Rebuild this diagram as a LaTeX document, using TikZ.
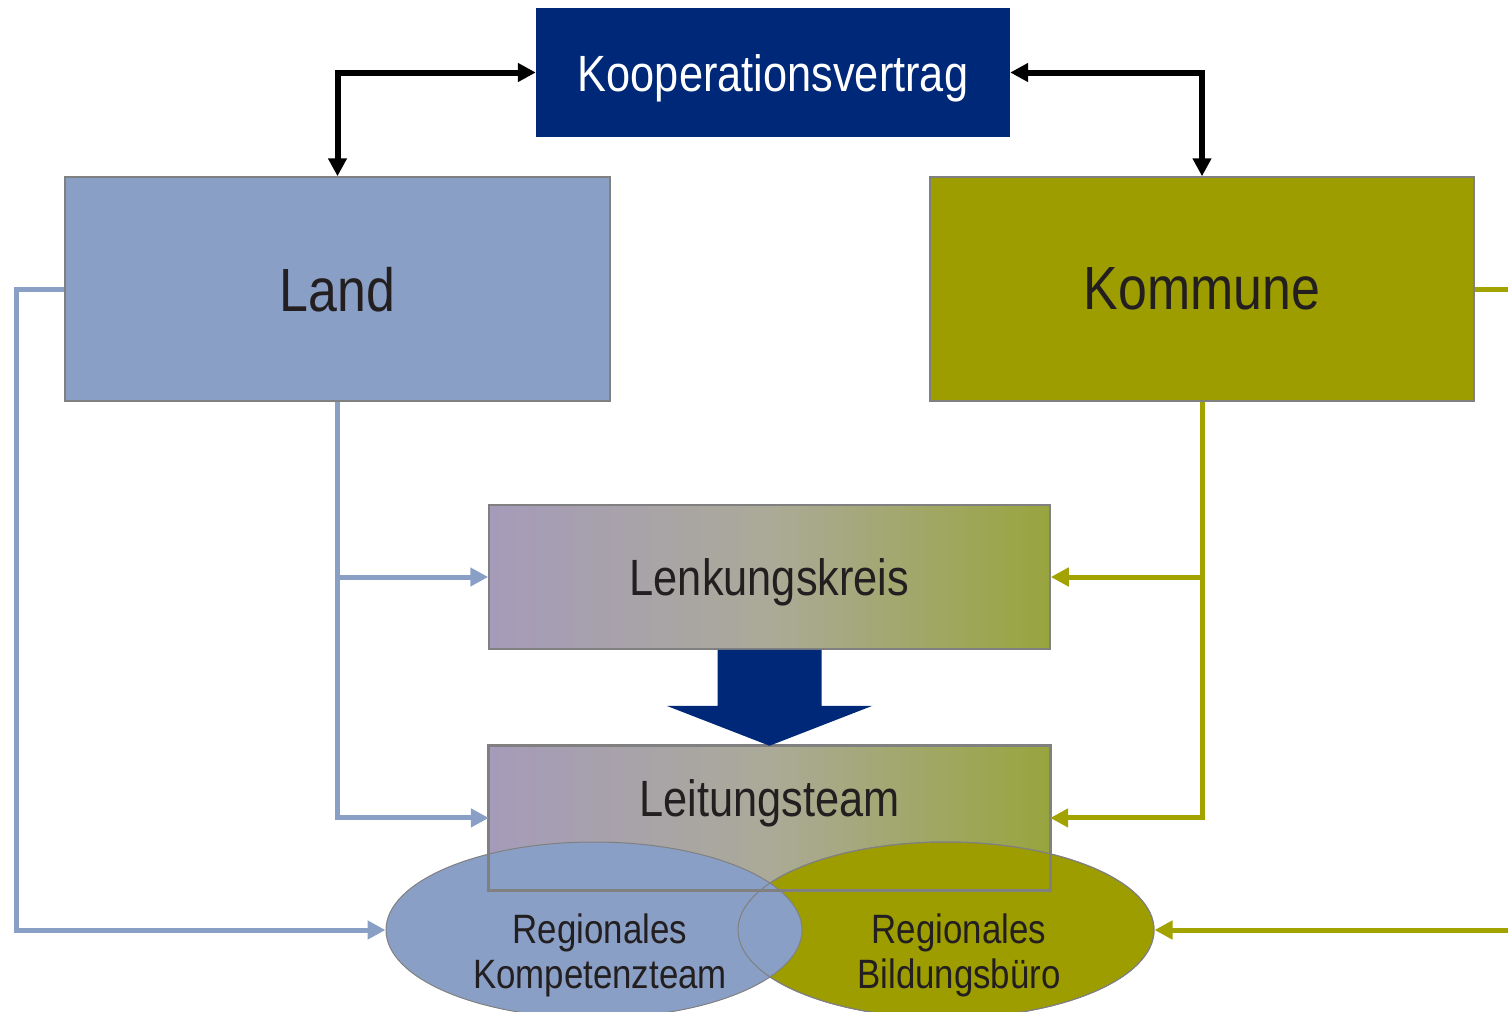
\documentclass[tikz,border=0pt]{standalone}
\usepackage{fontspec}
\setmainfont{Liberation Sans}[FakeStretch=0.85]
\usetikzlibrary{positioning,shapes.geometric,arrows.meta,calc}
\definecolor{VertragBlue}{RGB}{0,40,120}
\definecolor{LandBlue}{RGB}{138,159,197}
\definecolor{KomOlive}{RGB}{158,157,0}
\definecolor{LineOlive}{RGB}{163,163,0}
\definecolor{GradLav}{RGB}{165,155,186}
\definecolor{GradMid}{RGB}{171,170,152}
\definecolor{GradOlive}{RGB}{152,165,62}
\definecolor{BoxGrey}{RGB}{128,128,128}
\definecolor{TextDark}{RGB}{35,31,32}

\begin{document}
\begin{tikzpicture}[x=1pt, y=-1pt, >={Triangle[length=18pt,width=18pt]}]
    \useasboundingbox (0,0) rectangle (1508,1012);
    \clip (0,0) rectangle (1508,1012);
    % Vertrag
    \node [fill=VertragBlue,
        text=white,
        minimum width=474pt,
        minimum height=129pt
    ]  (Vertrag) at (773,72.5) {};
    \node [text=white,
        font=\fontsize{51}{56}\selectfont
    ]  (VertragText) at ([yshift=-6pt]Vertrag.center) {Kooperationsvertrag};
    % Partner
    \node [draw=BoxGrey, line width=1.5pt,
        fill=LandBlue,
        text=TextDark,
        minimum width=545pt,
        minimum height=224pt,
        text depth=0pt,
        font=\fontsize{61}{66}\selectfont
    ]  (Land) at (337.5,289) {Land};
    \node [draw=BoxGrey, line width=1.5pt,
        fill=KomOlive,
        text=TextDark,
        minimum width=544pt,
        minimum height=224pt,
        text depth=0pt,
        font=\fontsize{61}{66}\selectfont,
        right=318.5pt of Land
    ]  (Kommune) {Kommune};
    % Gremien
    \node [draw=BoxGrey, line width=1.5pt,
        left color=GradLav, right color=GradOlive, middle color=GradMid,
        text=TextDark,
        minimum width=561pt,
        minimum height=144pt,
        text depth=0pt,
        font=\fontsize{51}{56}\selectfont
    ]  (Lenkung) at (769.5,577) {Lenkungskreis};
    \node [left color=GradLav, right color=GradOlive, middle color=GradMid,
        minimum width=561pt,
        minimum height=144pt,
        below=96pt of Lenkung
    ]  (Leitung) {};
    \node [text=TextDark,
        text depth=0pt,
        font=\fontsize{51}{56}\selectfont
    ]  (LeitungText) at ([yshift=20pt]Leitung.center) {Leitungsteam};
    % Regionale Ebene
    \node [ellipse, draw=BoxGrey, line width=1pt,
        fill=KomOlive,
        minimum width=416pt,
        minimum height=176pt
    ]  (BildBuero) at (946,930) {};
    \node [ellipse, draw=BoxGrey, line width=1pt,
        fill=LandBlue,
        minimum width=416pt,
        minimum height=176pt
    ]  (KompTeam) at (594,930) {};
    \draw [BoxGrey, line width=1pt] (BildBuero.center) ellipse [x radius=208pt, y radius=88pt];
    \draw [BoxGrey, line width=3pt] (Leitung.north west) rectangle (Leitung.south east);
    \node [text=TextDark, align=center,
        font=\fontsize{41}{45}\selectfont
    ]  (KompTeamText) at ([xshift=6pt,yshift=-25pt]KompTeam.center) {Regionales\\Kompetenzteam};
    \node [text=TextDark, align=center,
        font=\fontsize{41}{45}\selectfont
    ]  (BildBueroText) at ([xshift=13pt,yshift=-25pt]BildBuero.center) {Regionales\\Bildungsbüro};

    % Vertrag arrows
    \draw [<->, line width=6pt] (Land.north) |- (Vertrag.west);
    \draw [<->, line width=6pt] (Kommune.north) |- (Vertrag.east);
    % Land arrows
    \draw [->, LandBlue, line width=5pt] (Land.south) |- (Leitung.west);
    \draw [->, LandBlue, line width=5pt] (Land.south |- Lenkung.west) -- (Lenkung.west);
    \draw [->, LandBlue, line width=5pt] (Land.west) -- ++(-48,0) |- (KompTeam.west);
    % Kommune arrows
    \draw [->, LineOlive, line width=5pt] (Kommune.south) |- (Leitung.east);
    \draw [->, LineOlive, line width=5pt] (Kommune.south |- Lenkung.east) -- (Lenkung.east);
    \draw [->, LineOlive, line width=5pt] (Kommune.east) -- ++(80,0) |- (BildBuero.east);
    % Lenkung to Leitung
    \fill [VertragBlue] ($(Lenkung.south)+(-52,0)$) -- ($(Lenkung.south)+(52,0)$)
        -- ($(Leitung.north)+(52,-40)$) -- ($(Leitung.north)+(103,-40)$)
        -- (Leitung.north) -- ($(Leitung.north)+(-103,-40)$)
        -- ($(Leitung.north)+(-52,-40)$) -- cycle;
\end{tikzpicture}
\end{document}
